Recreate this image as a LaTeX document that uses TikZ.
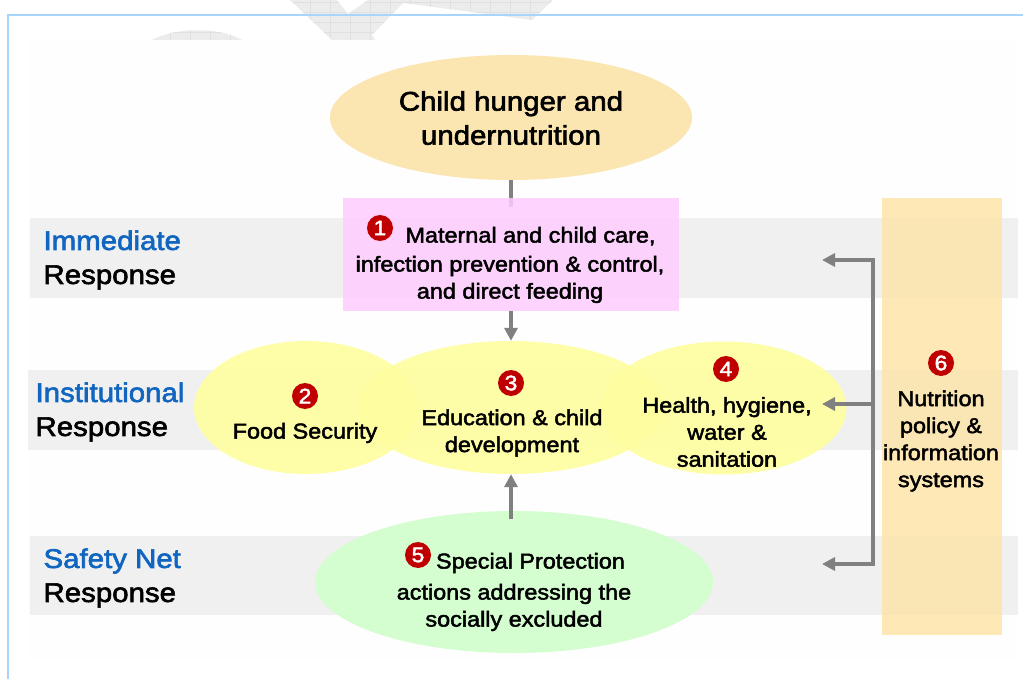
\documentclass[tikz,border=0pt]{standalone}
\usepackage{fontspec}
\setmainfont{Liberation Sans}[FakeBold=2.2,FakeStretch=1.09]
\usetikzlibrary{arrows.meta,shapes.geometric}
\definecolor{frameblue}{HTML}{A8D4FD}
\definecolor{panel}{HTML}{FEFEFE}
\definecolor{bandgrey}{HTML}{F0F0F0}
\definecolor{wmgrey}{HTML}{ECECEC}
\definecolor{wmline}{HTML}{E0E0E0}
\definecolor{hunger}{HTML}{FBE5B0}
\definecolor{pinkbox}{HTML}{FFCCFF}
\definecolor{yell}{HTML}{FFFFA0}
\definecolor{greenell}{HTML}{D4FDD0}
\definecolor{policy}{HTML}{FDE3A5}
\definecolor{arrowgrey}{HTML}{808080}
\definecolor{headblue}{HTML}{0F65C0}
\definecolor{badgered}{HTML}{C00000}
\tikzset{
  x=1pt,y=-1pt,
  band/.style={fill=bandgrey,draw=none},
  yellell/.style={ellipse,fill=yell,fill opacity=.9,draw=none,inner sep=0pt,minimum height=133pt},
  conn/.style={draw=arrowgrey,line width=4pt},
  arr/.style={conn,-{Triangle[length=13pt,width=13pt]}},
  badge/.style={circle,fill=badgered,text=white,inner sep=0pt,minimum size=26pt,font=\fontsize{21}{21}\selectfont},
  head/.style={anchor=west,align=left,font=\fontsize{27}{34}\selectfont},
  body/.style={align=center,text=black,font=\fontsize{21.5}{27}\selectfont},
}
\begin{document}
\begin{tikzpicture}
\useasboundingbox (0,0) rectangle (1023,679);
\fill[white] (0,0) rectangle (1023,679);
% watermark
\begin{scope}
\clip (290,0) -- (332,40) -- (375,40) -- (372,35) -- (403,3) -- (532,20) -- (553,0) -- (368,0) -- (348,14) -- (337,0) -- cycle
      (152,40) .. controls (175,27) and (220,27) .. (242,40) -- cycle;
\fill[wmgrey] (140,0) rectangle (560,40);
\foreach \gx in {150,170,...,550} \draw[wmline,line width=.5pt] (\gx,0) -- (\gx,40);
\foreach \gy in {2,12,22,32} \draw[wmline,line width=.5pt] (140,\gy) -- (560,\gy);
\end{scope}
% frame
\draw[frameblue,line width=1.2pt] (1023,15) -- (8,15) -- (8,679);
\fill[panel] (28,40) rectangle (1018,660);
% bands
\fill[band] (30,218) rectangle (1018,298);
\fill[band] (28,370) rectangle (1018,450);
\fill[band] (30,536) rectangle (1018,615);
% nodes
\node[ellipse,fill=hunger,inner sep=0pt,minimum width=362pt,minimum height=125pt] (hunger) at (511,117.5) {};
\node[anchor=center,align=center,font=\fontsize{27}{34}\selectfont] (huntxt) at (511,118) {Child hunger and\\undernutrition};
\coordinate (hungerend) at (511,207);
\draw[conn] (hunger.south) -- (hungerend);
\node[rectangle,fill=pinkbox,fill opacity=.85,inner sep=0pt,minimum width=336pt,minimum height=113pt] (pink) at (511,254.5) {};
\node[yellell,minimum width=224pt] (food) at (306,407.5) {};
\node[yellell,minimum width=306pt] (edu) at (511,407.5) {};
\node[yellell,minimum width=245pt] (health) at (724,408) {};
\node[ellipse,fill=greenell,inner sep=0pt,minimum width=398pt,minimum height=142pt] (prot) at (514,582) {};
\node[rectangle,fill=policy,fill opacity=.8,inner sep=0pt,minimum width=120pt,minimum height=437pt] (pol) at (942,416.5) {};
% arrows
\draw[arr] (pink.south) -- (edu.north);
\coordinate (protstart) at (511,519);
\draw[arr] (protstart) -- (edu.south);
\coordinate (bustop) at (873,260);
\coordinate (busmid) at (873,404);
\coordinate (busbot) at (873,564);
\coordinate (tiptop) at (822,260);
\coordinate (tipmid) at (822,404);
\coordinate (tipbot) at (822,564);
\draw[conn,line cap=rect] (bustop) -- (busbot);
\draw[arr] (bustop) -- (tiptop);
\draw[arr] (busmid) -- (tipmid);
\draw[arr] (busbot) -- (tipbot);
% left labels
\node[head] (imm) at (40,260) {\textcolor{headblue}{Immediate}\\Response};
\node[head] (ins) at (32,412) {\textcolor{headblue}{Institutional}\\Response};
\node[head] (saf) at (40,578) {\textcolor{headblue}{Safety Net}\\Response};
% body texts
\node[body] (t1) at (510,265) {\hspace*{41pt}Maternal and child care,\\[2pt]infection prevention \& control,\\and direct feeding};
\node[body] (t2) at (305,433) {Food Security};
\node[body] (t3) at (512,433) {Education \& child\\development};
\node[body] (t4) at (727,432) {Health, hygiene,\\water \&\\sanitation};
\node[body] (t5) at (514,592) {\hspace*{33pt}Special Protection\\[4pt]actions addressing the\\socially excluded};
\node[body] (t6) at (941,441) {Nutrition\\policy \&\\information\\systems};
% badges
\node[badge] (b1) at (380,228) {1};
\node[badge] (b2) at (305,396) {2};
\node[badge] (b3) at (511,383) {3};
\node[badge] (b4) at (726,369) {4};
\node[badge] (b5) at (418,555) {5};
\node[badge] (b6) at (941,363) {6};
\end{tikzpicture}
\end{document}
